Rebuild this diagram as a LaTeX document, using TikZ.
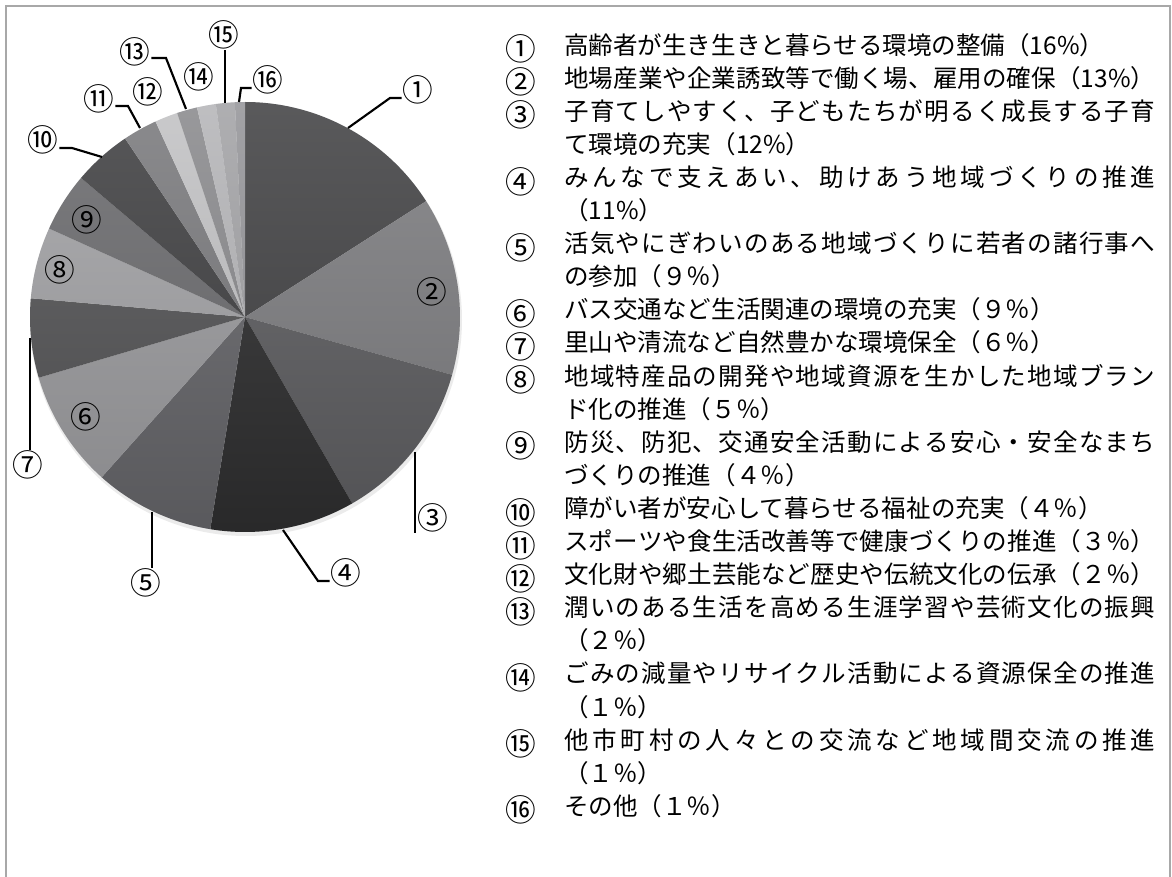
\documentclass[tikz,border=0pt]{standalone}
\usepackage{fontspec}
\setmainfont{Noto Sans CJK JP}
\definecolor{framegray}{HTML}{A8A8A8}
\definecolor{sA}{HTML}{434345}
\definecolor{sB}{HTML}{7E7E81}
\definecolor{sC}{HTML}{5E5E61}
\definecolor{sD}{HTML}{2F2F30}
\definecolor{sE}{HTML}{66666A}
\definecolor{sF}{HTML}{9C9C9F}
\definecolor{sG}{HTML}{555557}
\definecolor{sH}{HTML}{A3A3A6}
\definecolor{sI}{HTML}{6C6C6F}
\definecolor{sJ}{HTML}{414143}
\definecolor{sK}{HTML}{7B7B7E}
\definecolor{sL}{HTML}{C3C3C5}
\definecolor{sM}{HTML}{8B8B8E}
\definecolor{sN}{HTML}{B6B6B9}
\definecolor{sO}{HTML}{A4A4A7}
\definecolor{sP}{HTML}{96969A}
\makeatletter
\newcommand\spreadline[1]{\makebox[443.25pt][s]{\@tfor\jch:=#1\do{\jch\hfil}\unskip}}
\makeatother
\tikzset{
  frameline/.style={draw=framegray, line width=1.8pt},
  leader/.style={line width=1.6pt},
  plabel/.style={inner sep=0.5pt, font=\fontsize{23pt}{26pt}\selectfont},
  numlabel/.style={inner sep=0pt, font=\fontsize{23pt}{26pt}\selectfont},
  legtext/.style={anchor=west, inner sep=0pt, text height=0.88em, text depth=0.12em}
}
\begin{document}
\begin{tikzpicture}[x=0.75pt, y=-0.75pt, font=\fontsize{18.4pt}{22pt}\selectfont]
   \useasboundingbox (0,0) rectangle (1172,877);
   \draw[frameline] (6,880) -- (6,6) -- (1170,6) -- (1170,880);

   \coordinate (c) at (245,317);
   \fill[black!8] (246,320) circle[radius=216];
   \fill[sA] (c) -- ++(-90:215) arc[start angle=-90, end angle=-32.6, radius=215] -- cycle;
   \fill[sB] (c) -- ++(-32.6:215) arc[start angle=-32.6, end angle=15.6, radius=215] -- cycle;
   \fill[sC] (c) -- ++(15.6:215) arc[start angle=15.6, end angle=60.1, radius=215] -- cycle;
   \fill[sD] (c) -- ++(60.1:215) arc[start angle=60.1, end angle=99.3, radius=215] -- cycle;
   \fill[sE] (c) -- ++(99.3:215) arc[start angle=99.3, end angle=131.8, radius=215] -- cycle;
   \fill[sF] (c) -- ++(131.8:215) arc[start angle=131.8, end angle=163.6, radius=215] -- cycle;
   \fill[sG] (c) -- ++(163.6:215) arc[start angle=163.6, end angle=185, radius=215] -- cycle;
   \fill[sH] (c) -- ++(185:215) arc[start angle=185, end angle=204.3, radius=215] -- cycle;
   \fill[sI] (c) -- ++(204.3:215) arc[start angle=204.3, end angle=220.3, radius=215] -- cycle;
   \fill[sJ] (c) -- ++(220.3:215) arc[start angle=220.3, end angle=236.1, radius=215] -- cycle;
   \fill[sK] (c) -- ++(236.1:215) arc[start angle=236.1, end angle=245.4, radius=215] -- cycle;
   \fill[sL] (c) -- ++(245.4:215) arc[start angle=245.4, end angle=251.6, radius=215] -- cycle;
   \fill[sM] (c) -- ++(251.6:215) arc[start angle=251.6, end angle=257.1, radius=215] -- cycle;
   \fill[sN] (c) -- ++(257.1:215) arc[start angle=257.1, end angle=262.2, radius=215] -- cycle;
   \fill[sO] (c) -- ++(262.2:215) arc[start angle=262.2, end angle=267.3, radius=215] -- cycle;
   \fill[sP] (c) -- ++(267.3:215) arc[start angle=267.3, end angle=270, radius=215] -- cycle;
   \shade[top color=white, bottom color=black, opacity=0.12] (c) circle[radius=215];

   \node[plabel] (p1) at (418,90) {①};
   \node[plabel] (p2) at (432,292) {②};
   \node[plabel] (p3) at (433,518) {③};
   \node[plabel] (p4) at (346,573) {④};
   \node[plabel] (p5) at (146,583) {⑤};
   \node[plabel] (p6) at (86,417) {⑥};
   \node[plabel] (p7) at (28,465) {⑦};
   \node[plabel] (p8) at (60,270) {⑧};
   \node[plabel] (p9) at (87,220) {⑨};
   \node[plabel] (p10) at (43,140) {⑩};
   \node[plabel] (p11) at (99,99) {⑪};
   \node[plabel] (p12) at (148,92) {⑫};
   \node[plabel] (p13) at (135,52) {⑬};
   \node[plabel] (p14) at (199,77) {⑭};
   \node[plabel] (p15) at (224,35) {⑮};
   \node[plabel] (p16) at (268,80) {⑯};

   \coordinate (e1) at (348,128);   \coordinate (k1) at (390,98);
   \coordinate (e3) at (415,452);
   \coordinate (e4) at (283,530);   \coordinate (k4) at (318,581);
   \coordinate (e5) at (152,512);
   \coordinate (e7) at (30,338);
   \coordinate (e10) at (102,157);  \coordinate (k10) at (72,148);
   \coordinate (e11) at (140,128);  \coordinate (k11) at (128,106);
   \coordinate (e13) at (186,109);  \coordinate (k13) at (166,58);
   \coordinate (e15) at (225,103);
   \coordinate (e16) at (239,102);  \coordinate (k16) at (241,88);
   \draw[leader] (e1) -- (k1) -- (p1.west |- k1);
   \draw[leader] (e3) -- (e3 |- p3.south);
   \draw[leader] (e4) -- (k4) -- (p4.west |- k4);
   \draw[leader] (e5) -- (e5 |- p5.north);
   \draw[leader] (e7) -- (e7 |- p7.north);
   \draw[leader] (e10) -- (k10) -- (p10.east |- k10);
   \draw[leader] (e11) -- (k11) -- (p11.east |- k11);
   \draw[leader] (e13) -- (k13) -- (p13.east |- k13);
   \draw[leader] (e15) -- (e15 |- p15.south);
   \draw[leader] (e16) -- (k16) -- (p16.west |- k16);

   \node[numlabel] (n1) at (521,49) {①};
   \node[legtext] (t1) at (564,49) {高齢者が生き生きと暮らせる環境の整備（16\%）};
   \node[numlabel] (n2) at (521,82.1) {②};
   \node[legtext] (t2) at (564,82.1) {\spreadline{地場産業や企業誘致等で働く場、雇用の確保（13\%）}};
   \node[numlabel] (n3) at (521,115.2) {③};
   \node[legtext] (t3) at (564,115.2) {\spreadline{子育てしやすく、子どもたちが明るく成長する子育}};
   \node[legtext] (t3b) at (564,148.3) {て環境の充実（12\%）};
   \node[numlabel] (n4) at (521,181.4) {④};
   \node[legtext] (t4) at (564,181.4) {\spreadline{みんなで支えあい、助けあう地域づくりの推進}};
   \node[legtext] (t4b) at (564,214.5) {（11\%）};
   \node[numlabel] (n5) at (521,247.6) {⑤};
   \node[legtext] (t5) at (564,247.6) {\spreadline{活気やにぎわいのある地域づくりに若者の諸行事へ}};
   \node[legtext] (t5b) at (564,280.7) {の参加（９％）};
   \node[numlabel] (n6) at (521,313.8) {⑥};
   \node[legtext] (t6) at (564,313.8) {バス交通など生活関連の環境の充実（９％）};
   \node[numlabel] (n7) at (521,346.9) {⑦};
   \node[legtext] (t7) at (564,346.9) {里山や清流など自然豊かな環境保全（６％）};
   \node[numlabel] (n8) at (521,380) {⑧};
   \node[legtext] (t8) at (564,380) {\spreadline{地域特産品の開発や地域資源を生かした地域ブラン}};
   \node[legtext] (t8b) at (564,413.1) {ド化の推進（５％）};
   \node[numlabel] (n9) at (521,446.2) {⑨};
   \node[legtext] (t9) at (564,446.2) {\spreadline{防災、防犯、交通安全活動による安心・安全なまち}};
   \node[legtext] (t9b) at (564,479.3) {づくりの推進（４％）};
   \node[numlabel] (n10) at (521,512.4) {⑩};
   \node[legtext] (t10) at (564,512.4) {障がい者が安心して暮らせる福祉の充実（４％）};
   \node[numlabel] (n11) at (521,545.5) {⑪};
   \node[legtext] (t11) at (564,545.5) {\spreadline{スポーツや食生活改善等で健康づくりの推進（３％）}};
   \node[numlabel] (n12) at (521,578.6) {⑫};
   \node[legtext] (t12) at (564,578.6) {\spreadline{文化財や郷土芸能など歴史や伝統文化の伝承（２％）}};
   \node[numlabel] (n13) at (521,611.7) {⑬};
   \node[legtext] (t13) at (564,611.7) {\spreadline{潤いのある生活を高める生涯学習や芸術文化の振興}};
   \node[legtext] (t13b) at (564,644.8) {（２％）};
   \node[numlabel] (n14) at (521,677.9) {⑭};
   \node[legtext] (t14) at (564,677.9) {\spreadline{ごみの減量やリサイクル活動による資源保全の推進}};
   \node[legtext] (t14b) at (564,711) {（１％）};
   \node[numlabel] (n15) at (521,744.1) {⑮};
   \node[legtext] (t15) at (564,744.1) {\spreadline{他市町村の人々との交流など地域間交流の推進}};
   \node[legtext] (t15b) at (564,777.2) {（１％）};
   \node[numlabel] (n16) at (521,810.3) {⑯};
   \node[legtext] (t16) at (564,810.3) {その他（１％）};
\end{tikzpicture}
\end{document}
